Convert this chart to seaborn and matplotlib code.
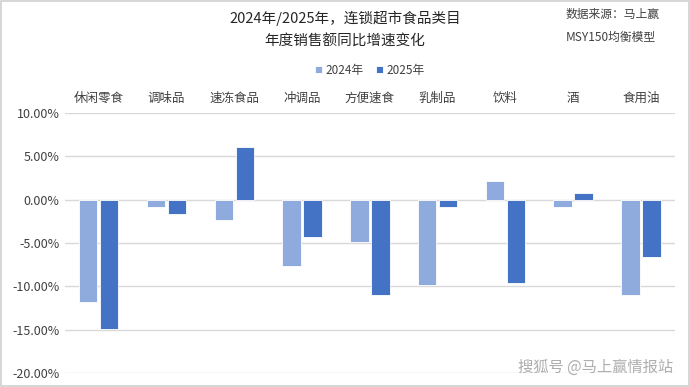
import matplotlib as mpl

mpl.use("Agg")

import matplotlib.pyplot as plt
import matplotlib.ticker as mticker
import pandas as pd
import seaborn as sns

sns.set_theme(style="white")
plt.rcParams["font.family"] = ["Noto Sans CJK SC", "DejaVu Sans"]

categories = ["休闲零食", "调味品", "速冻食品", "冲调品", "方便速食", "乳制品", "饮料", "酒", "食用油"]
growth_2024 = [-11.8, -0.8, -2.4, -7.7, -4.9, -9.8, 2.1, -0.8, -11.0]
growth_2025 = [-14.9, -1.6, 6.1, -4.3, -11.0, -0.9, -9.6, 0.75, -6.6]
years = ["2024年", "2025年"]
colors = ["#8FAADC", "#4472C4"]

df = pd.DataFrame({
    "category": categories * 2,
    "year": [years[0]] * len(categories) + [years[1]] * len(categories),
    "growth": growth_2024 + growth_2025,
})

fig = plt.figure(figsize=(6.9, 3.87), dpi=100)
ax = fig.add_axes([0.094, 0.036, 0.884, 0.672])

sns.barplot(
    data=df, x="category", y="growth", hue="year",
    palette=colors, saturation=1, width=0.62, gap=0.12,
    edgecolor="white", linewidth=0.6, ax=ax,
)

ax.set_ylim(-20, 10)
ax.yaxis.set_major_locator(mticker.MultipleLocator(5))
ax.yaxis.set_major_formatter(mticker.FuncFormatter(lambda v, _: f"{v:.2f}%"))
ax.grid(axis="y", color="#D9D9D9", linewidth=1)
ax.set_axisbelow(True)
for s in ax.spines.values():
    s.set_visible(False)
ax.xaxis.tick_top()
ax.tick_params(axis="x", length=0, pad=6, labelsize=9, labelcolor="#404040")
ax.tick_params(axis="y", length=0, pad=4, labelsize=9, labelcolor="#404040")
ax.set_xlabel("")
ax.set_ylabel("")

ax.legend(
    loc="center", bbox_to_anchor=(0.5, 1.165), ncol=2, frameon=False,
    fontsize=8.5, handlelength=0.6, handleheight=0.6, handletextpad=0.3,
    columnspacing=1.0, labelcolor="#404040",
)

fig.text(0.5, 0.953, "2024年/2025年，连锁超市食品类目", ha="center", va="center",
         fontsize=10.5, color="#262626")
fig.text(0.5, 0.893, "年度销售额同比增速变化", ha="center", va="center",
         fontsize=10.5, color="#262626")
fig.text(0.82, 0.962, "数据来源：马上赢", ha="left", va="center", fontsize=8.5, color="#404040")
fig.text(0.82, 0.903, "MSY150均衡模型", ha="left", va="center", fontsize=8.5, color="#404040")
fig.text(0.975, 0.03, "搜狐号 @马上赢情报站", ha="right", va="bottom", fontsize=11,
         color="#9A9A9A", alpha=0.8)

fig.patches.append(mpl.patches.Rectangle(
    (0.002, 0.003), 0.996, 0.994, transform=fig.transFigure,
    fill=False, edgecolor="#D0D0D0", linewidth=1.2))

fig.savefig("out.png", dpi=100)
